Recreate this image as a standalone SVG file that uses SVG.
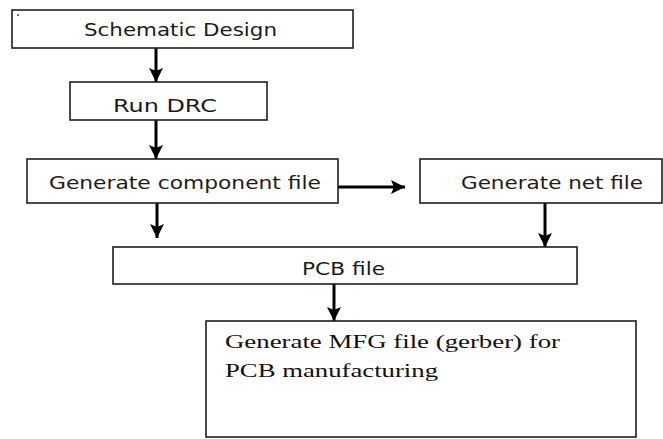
<svg xmlns="http://www.w3.org/2000/svg" width="663" height="439" viewBox="0 0 663 439">
  <style>
    .box { fill: #ffffff; stroke: #1e1e1e; stroke-width: 1.6; }
    .lbl { font-family: "DejaVu Sans", "Liberation Sans", sans-serif; font-size: 17px; fill: #1a1a1a; }
    .ser { font-family: "Liberation Serif", "DejaVu Serif", serif; font-size: 19px; fill: #111111; }
    .conn { stroke: #000000; stroke-width: 3; fill: none; marker-end: url(#arrow); }
  </style>
  <defs>
    <marker id="arrow" markerUnits="userSpaceOnUse" markerWidth="15" markerHeight="15" refX="14" refY="7.5" orient="auto">
      <path d="M0,0.5 L14,7.5 L0,14.5 L3,7.5 Z" fill="#000000"/>
    </marker>
  </defs>
  <rect width="663" height="439" fill="#ffffff"/>

  <g id="connectors">
    <line class="conn" x1="156" y1="48" x2="156" y2="82"/>
    <line class="conn" x1="156" y1="120" x2="156" y2="159"/>
    <line class="conn" x1="338" y1="187" x2="405" y2="187"/>
    <line class="conn" x1="157" y1="203" x2="157" y2="238"/>
    <line class="conn" x1="545" y1="203" x2="545" y2="247"/>
    <line class="conn" x1="334" y1="284" x2="334" y2="321"/>
  </g>

  <g id="schematic">
    <rect class="box" x="12" y="10" width="341" height="38"/>
    <circle cx="18" cy="15" r="0.9" fill="#333"/>
    <text class="lbl" x="84" y="36" textLength="193" lengthAdjust="spacingAndGlyphs">Schematic Design</text>
  </g>

  <g id="drc">
    <rect class="box" x="70" y="82" width="197" height="38"/>
    <text class="lbl" x="113" y="112" textLength="104" lengthAdjust="spacingAndGlyphs">Run DRC</text>
  </g>

  <g id="component">
    <rect class="box" x="27" y="159" width="311" height="44"/>
    <text class="lbl" x="49" y="189" textLength="272" lengthAdjust="spacingAndGlyphs">Generate component file</text>
  </g>

  <g id="netfile">
    <rect class="box" x="420" y="159" width="242" height="44"/>
    <text class="lbl" x="461" y="189" textLength="182" lengthAdjust="spacingAndGlyphs">Generate net file</text>
  </g>

  <g id="pcb">
    <rect class="box" x="113" y="247" width="464" height="37"/>
    <text class="lbl" x="302" y="275" textLength="83" lengthAdjust="spacingAndGlyphs">PCB file</text>
  </g>

  <g id="mfg">
    <rect class="box" x="206" y="321" width="430" height="116"/>
    <text class="ser" x="225" y="348" textLength="335" lengthAdjust="spacingAndGlyphs">Generate MFG file (gerber) for</text>
    <text class="ser" x="225" y="377" textLength="213" lengthAdjust="spacingAndGlyphs">PCB manufacturing</text>
  </g>
</svg>
